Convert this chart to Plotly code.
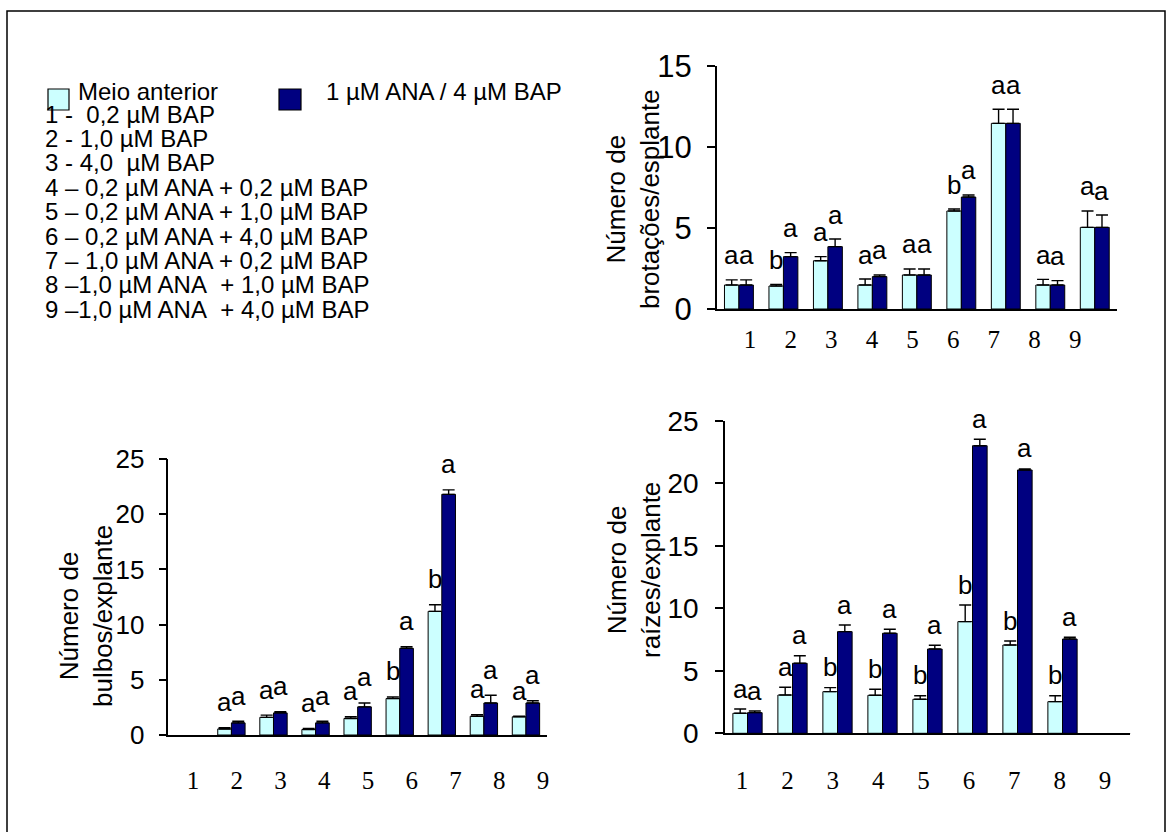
import plotly.graph_objects as go

W, H = 1172, 832

categories = ["1", "2", "3", "4", "5", "6", "7", "8", "9"]
series_names = ["Meio anterior", "1 µM ANA / 4 µM BAP"]
treatments = [
    "1 -  0,2 µM BAP",
    "2 - 1,0 µM BAP",
    "3 - 4,0  µM BAP",
    "4 – 0,2 µM ANA + 0,2 µM BAP",
    "5 – 0,2 µM ANA + 1,0 µM BAP",
    "6 – 0,2 µM ANA + 4,0 µM BAP",
    "7 – 1,0 µM ANA + 0,2 µM BAP",
    "8 –1,0 µM ANA  + 1,0 µM BAP",
    "9 –1,0 µM ANA  + 4,0 µM BAP",
]

# Número de brotações/esplante
brot_meio = [1.48, 1.42, 2.98, 1.48, 2.10, 6.05, 11.46, 1.48, 5.04]
brot_meio_err = [0.32, 0.10, 0.25, 0.37, 0.37, 0.12, 0.87, 0.35, 1.01]
brot_ana = [1.48, 3.23, 3.85, 2.00, 2.10, 6.91, 11.46, 1.48, 5.04]
brot_ana_err = [0.32, 0.25, 0.47, 0.10, 0.37, 0.13, 0.87, 0.27, 0.76]
brot_meio_let = ["a", "b", "a", "a", "a", "b", "a", "a", "a"]
brot_ana_let = ["a", "a", "a", "a", "a", "a", "a", "a", "a"]

# Número de bulbos/explante
bulb_meio = [None, 0.55, 1.60, 0.50, 1.50, 3.30, 11.20, 1.70, 1.65]
bulb_meio_err = [None, 0.10, 0.20, 0.10, 0.15, 0.15, 0.60, 0.15, 0.05]
bulb_ana = [None, 1.10, 2.00, 1.10, 2.55, 7.85, 21.80, 2.90, 2.90]
bulb_ana_err = [None, 0.15, 0.10, 0.15, 0.35, 0.15, 0.40, 0.70, 0.20]
bulb_meio_let = [None, "a", "a", "a", "a", "b", "b", "a", "a"]
bulb_ana_let = [None, "a", "a", "a", "a", "a", "a", "a", "a"]

# Número de raízes/explante
raiz_meio = [1.60, 3.06, 3.33, 3.04, 2.72, 8.93, 7.06, 2.53, None]
raiz_meio_err = [0.34, 0.62, 0.32, 0.48, 0.28, 1.33, 0.32, 0.47, None]
raiz_ana = [1.65, 5.60, 8.13, 8.00, 6.74, 23.00, 21.06, 7.54, None]
raiz_ana_err = [0.13, 0.60, 0.53, 0.32, 0.30, 0.52, 0.08, 0.14, None]
raiz_meio_let = ["a", "a", "b", "b", "b", "b", "b", "b", None]
raiz_ana_let = ["a", "a", "a", "a", "a", "a", "a", "a", None]

LIGHT = "#CCFFFF"
DARK = "#000080"
SANS = "Liberation Sans, Arial, sans-serif"
SERIF = "Liberation Serif, Times New Roman, serif"
BARGAP = 0.35


def fx(px):
    return px / W


def fy(py):
    return 1 - py / H


panels = [
    dict(xa="x", ya="y", xlab="x4",
         xdom=(716.7, 1117), ydom=(309, 66), yrange=15, dtick=5, tickfont=31,
         ystand=9, xstand=13, labrange=(0.18, 10.03), shift=7.5,
         title="Número de<br>brotações/esplante", tpos=(633, 199),
         data=(brot_meio, brot_meio_err, brot_ana, brot_ana_err, brot_meio_let, brot_ana_let)),
    dict(xa="x2", ya="y2", xlab="x5",
         xdom=(168.3, 547), ydom=(735, 459), yrange=25, dtick=5, tickfont=26,
         ystand=9, xstand=28, labrange=(0.435, 9.09), shift=8.5,
         title="Número de<br>bulbos/explante", tpos=(86, 616),
         data=(bulb_meio, bulb_meio_err, bulb_ana, bulb_ana_err, bulb_meio_let, bulb_ana_let)),
    dict(xa="x3", ya="y3", xlab="x6",
         xdom=(725, 1130), ydom=(733.3, 420.7), yrange=25, dtick=5, tickfont=28,
         ystand=11, xstand=30, labrange=(0.625, 9.55), shift=3.5,
         title="Número de<br>raízes/explante", tpos=(634, 570),
         data=(raiz_meio, raiz_meio_err, raiz_ana, raiz_ana_err, raiz_meio_let, raiz_ana_let)),
]

fig = go.Figure()
layout = dict(
    width=W, height=H, autosize=False,
    margin=dict(l=0, r=0, t=0, b=0, pad=0, autoexpand=False),
    paper_bgcolor="white", plot_bgcolor="white",
    barmode="group", bargap=BARGAP, bargroupgap=0,
    showlegend=False,
    font=dict(family=SANS, color="black"),
)
annotations = []
shapes = []

half = (1 - BARGAP) / 4

for p in panels:
    meio, meio_err, ana, ana_err, meio_let, ana_let = p["data"]
    for vals, errs, color, name in ((meio, meio_err, LIGHT, series_names[0]),
                                    (ana, ana_err, DARK, series_names[1])):
        fig.add_trace(go.Bar(
            x=categories, y=vals, name=name,
            xaxis=p["xa"], yaxis=p["ya"],
            marker=dict(color=color, line=dict(color="black", width=1)),
            error_y=dict(type="data", array=errs, symmetric=False,
                         arrayminus=[0] * len(errs),
                         color="black", thickness=1.4, width=6),
        ))
    # empty companion trace so the numbering axis gets drawn
    fig.add_trace(go.Scatter(x=[], y=[], xaxis=p["xlab"], yaxis=p["ya"],
                             mode="markers", hoverinfo="skip", showlegend=False))

    xkey = "xaxis" + p["xa"][1:]
    ykey = "yaxis" + p["ya"][1:]
    lkey = "xaxis" + p["xlab"][1:]
    layout[xkey] = dict(
        domain=[fx(p["xdom"][0]), fx(p["xdom"][1])], anchor=p["ya"],
        type="category", showticklabels=False, ticks="",
        showline=True, linecolor="black", linewidth=1.5,
        showgrid=False, zeroline=False, automargin=False,
    )
    layout[ykey] = dict(
        domain=[fy(p["ydom"][0]), fy(p["ydom"][1])], anchor=p["xa"],
        range=[0, p["yrange"]], dtick=p["dtick"], tick0=0,
        ticks="outside", ticklen=8, tickwidth=1.5, tickcolor="black",
        showline=True, linecolor="black", linewidth=1.5,
        showgrid=False, zeroline=False, automargin=False,
        tickfont=dict(family=SANS, size=p["tickfont"], color="black"),
        ticklabelstandoff=p["ystand"],
    )
    # category numbers drawn on a companion axis
    layout[lkey] = dict(
        overlaying=p["xa"], anchor=p["ya"], side="bottom",
        range=list(p["labrange"]), tickvals=list(range(1, 10)), ticktext=categories,
        showline=False, ticks="", showgrid=False, zeroline=False, automargin=False,
        tickfont=dict(family=SERIF, size=25, color="black"),
        ticklabelstandoff=p["xstand"],
    )

    # end tick of the category axis and the value axis running below zero
    for xd in (0, 1):
        shapes.append(dict(
            type="line", xref=p["xa"] + " domain", yref=p["ya"],
            x0=xd, x1=xd, ysizemode="pixel", yanchor=0, y0=0, y1=-10,
            line=dict(color="black", width=1.5),
        ))

    # significance letters above each bar
    for i in range(len(categories)):
        for vals, errs, lets, off in ((meio, meio_err, meio_let, -half),
                                      (ana, ana_err, ana_let, half)):
            if lets[i] is None or vals[i] is None:
                continue
            annotations.append(dict(
                xref=p["xa"], yref=p["ya"], x=i + off, y=vals[i] + (errs[i] or 0),
                text=lets[i], showarrow=False, xanchor="center", yanchor="bottom",
                yshift=p["shift"], font=dict(family=SANS, size=26, color="black"),
            ))

    annotations.append(dict(
        xref="paper", yref="paper", x=fx(p["tpos"][0]), y=fy(p["tpos"][1]),
        text=p["title"], textangle=-90, showarrow=False,
        xanchor="center", yanchor="middle",
        font=dict(family=SANS, size=26, color="black"),
    ))

# series key
for (x0, x1, color), name, tx in (((48, 69, LIGHT), series_names[0], 77),
                                  ((279, 301, DARK), series_names[1], 325)):
    shapes.append(dict(
        type="rect", xref="paper", yref="paper",
        x0=fx(x0), x1=fx(x1), y0=fy(110), y1=fy(89),
        fillcolor=color, line=dict(color="black", width=1.2),
    ))
    annotations.append(dict(
        xref="paper", yref="paper", x=fx(tx), y=fy(91), text=name,
        showarrow=False, xanchor="left", yanchor="middle", borderpad=0,
        font=dict(family=SANS, size=24, color="black"),
    ))

# treatment list
for k, t in enumerate(treatments):
    annotations.append(dict(
        xref="paper", yref="paper", x=fx(44), y=fy(114 + 24.4 * k),
        text=t.replace("  ", "\u00a0 "),
        showarrow=False, xanchor="left", yanchor="middle", borderpad=0,
        font=dict(family=SANS, size=24, color="black"),
    ))

# outer frame
shapes.append(dict(
    type="rect", xref="paper", yref="paper",
    x0=fx(7), x1=fx(1165), y0=fy(845), y1=fy(11),
    line=dict(color="black", width=1.5), fillcolor="rgba(0,0,0,0)",
))

layout["annotations"] = annotations
layout["shapes"] = shapes
fig.update_layout(**layout)

fig.write_html("out.html")
